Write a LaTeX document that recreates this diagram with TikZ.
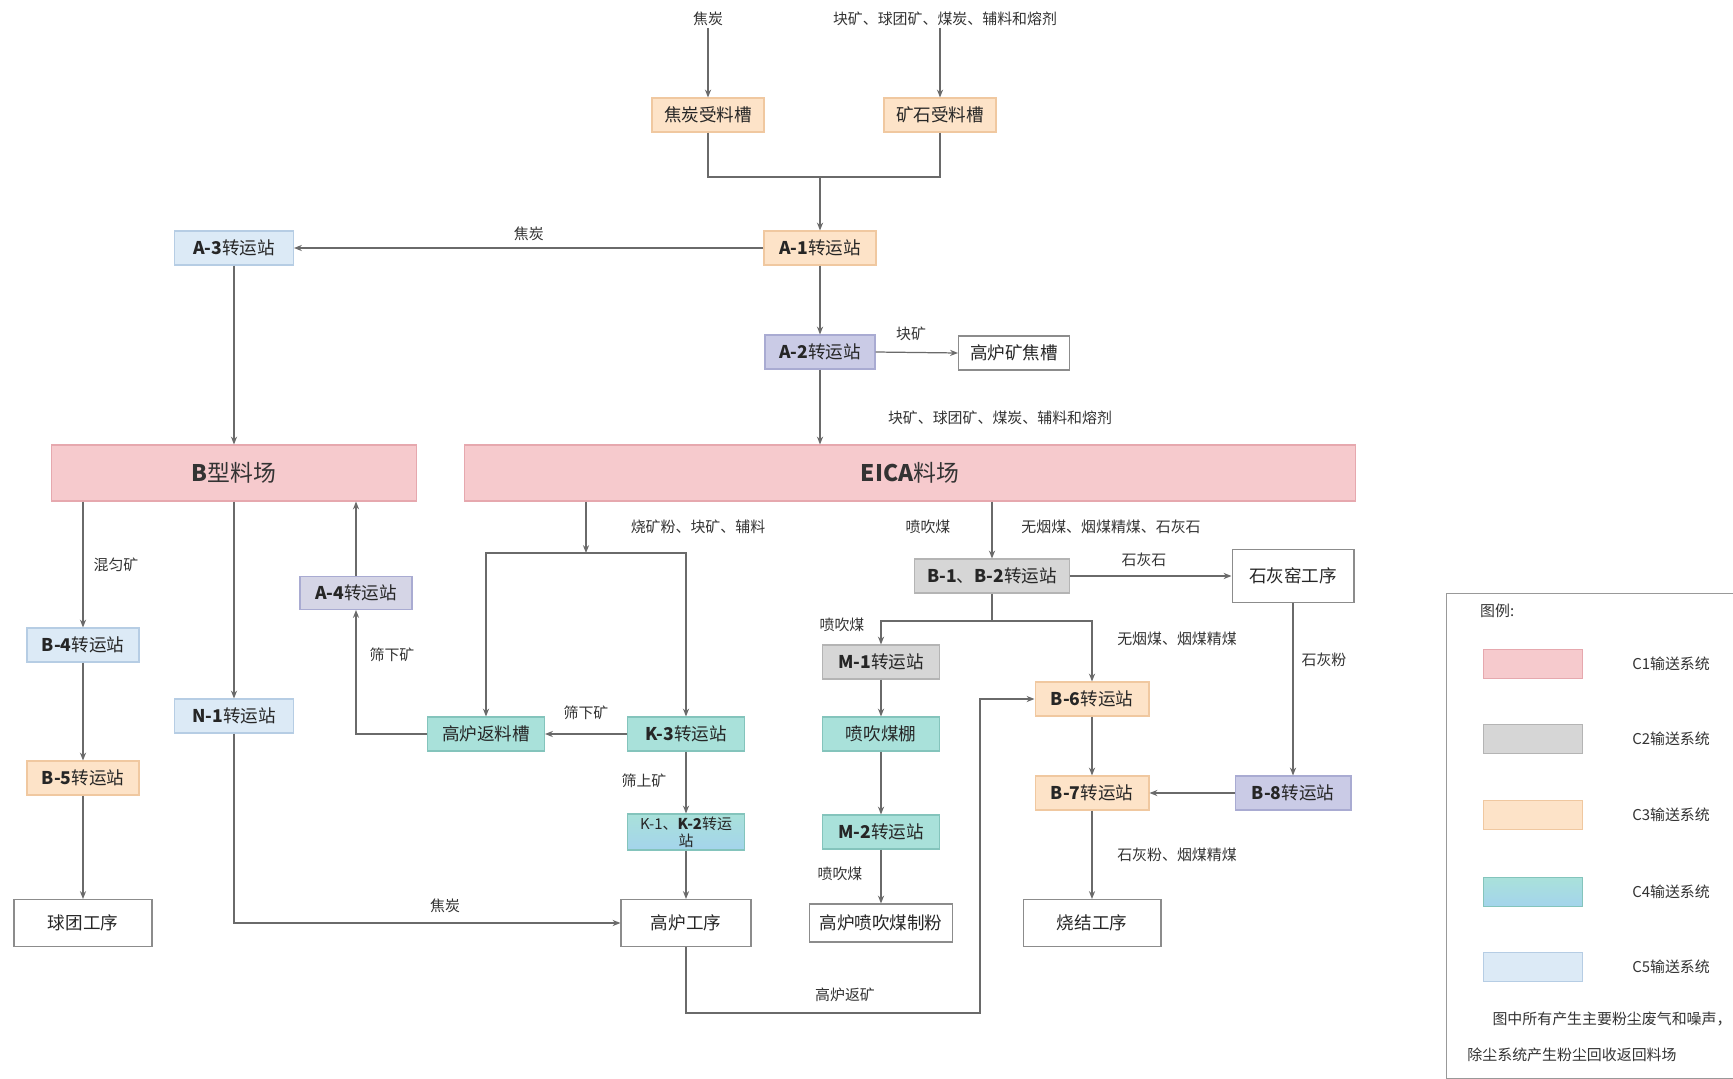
\documentclass[tikz,border=0pt]{standalone}
\usepackage{fontspec}
\setmainfont{Noto Sans CJK SC}
\usetikzlibrary{arrows.meta,calc}

\definecolor{pinkF}{HTML}{F6CACD}
\definecolor{pinkD}{HTML}{E6A8AE}
\definecolor{grayF}{HTML}{D6D6D6}
\definecolor{grayD}{HTML}{B4B4B4}
\definecolor{peachF}{HTML}{FDE3C8}
\definecolor{peachD}{HTML}{F0C8A0}
\definecolor{tealF}{HTML}{A9E1DA}
\definecolor{tealD}{HTML}{84C4BC}
\definecolor{cyanF}{HTML}{A4D4EC}
\definecolor{blueF}{HTML}{DCEAF6}
\definecolor{blueD}{HTML}{B6CDE4}
\definecolor{lavF}{HTML}{CACBE6}
\definecolor{lavD}{HTML}{A9ABD2}
\definecolor{lavgF}{HTML}{D5D5E6}
\definecolor{lineC}{HTML}{6A6A6A}

\tikzset{
  nbox/.style={rectangle, line width=0.6pt, minimum width=2.24cm, minimum height=0.68cm,
    inner sep=1pt, align=center, text=black!85, font=\fontsize{10}{11}\selectfont},
  pinkbox/.style={nbox, fill=pinkF, draw=pinkD},
  graybox/.style={nbox, fill=grayF, draw=grayD},
  peachbox/.style={nbox, fill=peachF, draw=peachD},
  tealbox/.style={nbox, fill=tealF, draw=tealD},
  cyanbox/.style={nbox, top color=tealF, bottom color=cyanF, draw=tealD},
  bluebox/.style={nbox, fill=blueF, draw=blueD},
  lavbox/.style={nbox, fill=lavF, draw=lavD},
  lavgbox/.style={nbox, fill=lavgF, draw=lavD},
  whitebox/.style={nbox, fill=white, draw=black!45},
  yard/.style={rectangle, fill=pinkF, draw=pinkD, line width=0.6pt, minimum height=1.12cm,
    font=\fontsize{13}{14}\selectfont, text=black!80},
  flow/.style={draw=lineC, line width=0.7pt, -{Stealth[length=4.5pt,width=3.5pt]}},
  plain/.style={draw=lineC, line width=0.7pt},
  lbl/.style={font=\fontsize{8.5}{10}\selectfont, text=black!80, inner sep=1pt},
  swatch/.style={rectangle, minimum width=1.98cm, minimum height=0.58cm, line width=0.6pt},
  legtxt/.style={font=\fontsize{8.5}{10}\selectfont, text=black!80, anchor=east}
}

\begin{document}
\begin{tikzpicture}[x=0.02cm, y=-0.02cm]
\useasboundingbox (0,0) rectangle (1733,1078);

% ---------- incoming materials and receiving troughs ----------
\node[lbl] (tcoke) at (708,19) {焦炭};
\node[lbl] (tore) at (945,19) {块矿、球团矿、煤炭、辅料和熔剂};
\node[peachbox] (cokeT) at (708,115) {焦炭受料槽};
\node[peachbox] (oreT) at (940,115) {矿石受料槽};
\draw[flow] (tcoke.south) -- (cokeT.north);
\draw[flow] (oreT.north |- tore.south) -- (oreT.north);

% ---------- transfer stations A ----------
\node[peachbox] (a1) at (820,248) {\textbf{A-1}转运站};
\node[bluebox, minimum width=2.38cm] (a3) at (234,248) {\textbf{A-3}转运站};
\node[lavbox, minimum width=2.2cm] (a2) at (820,352) {\textbf{A-2}转运站};
\node[whitebox, minimum width=2.22cm] (hp) at (1014,353) {高炉矿焦槽};

\coordinate (m1) at (820,177);
\draw[plain] (cokeT.south) |- (m1);
\draw[plain] (oreT.south) |- (m1);
\draw[flow] (m1) -- (a1.north);
\draw[flow] (a1.west) -- (a3.east) node[lbl, midway, above=3pt] {焦炭};
\draw[flow] (a1.south) -- (a2.north);
\draw[flow] (a2.east) -- (hp.west);
\node[lbl] at (911,334) {块矿};
\node[lbl] at (1000,418) {块矿、球团矿、煤炭、辅料和熔剂};

% ---------- stockyards ----------
\node[yard, minimum width=17.84cm] (eica) at (910,473) {\textbf{EICA}料场};
\node[yard, minimum width=7.3cm] (byard) at (234,473) {\textbf{B}型料场};
\draw[flow] (a2.south) -- (a2.south |- eica.north);
\draw[flow] (a3.south) -- (a3.south |- byard.north);

% ---------- left column ----------
\node[bluebox] (b4) at (83,645) {\textbf{B-4}转运站};
\node[peachbox] (b5) at (83,778) {\textbf{B-5}转运站};
\node[whitebox, minimum width=2.76cm, minimum height=0.94cm] (qt) at (83,923) {球团工序};
\draw[flow] (byard.south -| b4) -- (b4.north);
\node[lbl] at (116,565) {混匀矿};
\draw[flow] (b4.south) -- (b5.north);
\draw[flow] (b5.south) -- (qt.north);

\node[bluebox, minimum width=2.38cm] (n1) at (234,716) {\textbf{N-1}转运站};
\draw[flow] (byard.south -| n1) -- (n1.north);

\node[lavgbox, minimum width=2.24cm, minimum height=0.66cm] (a4) at (356,593) {\textbf{A-4}转运站};
\draw[flow] (a4.north) -- (a4.north |- byard.south);
\node[lbl] at (392,655) {筛下矿};

% ---------- blast furnace ore line ----------
\node[tealbox, minimum width=2.34cm] (fl) at (486,734) {高炉返料槽};
\node[tealbox, minimum width=2.34cm] (k3) at (686,734) {\textbf{K-3}转运站};
\node[cyanbox, minimum width=2.34cm, minimum height=0.72cm, font=\fontsize{8.5}{9.5}\selectfont] (k12) at (686,832) {K-1、\textbf{K-2}转运\\站};
\node[whitebox, minimum width=2.6cm, minimum height=0.94cm] (gl) at (686,923) {高炉工序};

\coordinate (br1) at (586,553);
\draw[flow] (eica.south -| br1) -- (br1);
\draw[flow] (br1) -| (fl.north);
\draw[flow] (br1) -| (k3.north);
\node[lbl] at (698,527) {烧矿粉、块矿、辅料};
\draw[flow] (k3.west) -- (fl.east);
\node[lbl] at (586,713) {筛下矿};
\draw[flow] (fl.west) -| (a4.south);
\draw[flow] (k3.south) -- (k12.north);
\node[lbl] at (644,781) {筛上矿};
\draw[flow] (k12.south) -- (gl.north);
\draw[flow] (n1.south) |- (gl.west);
\node[lbl] at (445,906) {焦炭};

% ---------- coal and flux lines ----------
\node[graybox, minimum width=3.1cm] (b12) at (992,576) {\textbf{B-1}、\textbf{B-2}转运站};
\draw[flow] (eica.south -| b12) -- (b12.north);
\node[lbl] at (928,527) {喷吹煤};
\node[lbl] at (1111,527) {无烟煤、烟煤精煤、石灰石};

\node[whitebox, minimum width=2.44cm, minimum height=1.06cm] (lime) at (1293,576) {石灰窑工序};
\draw[flow] (b12.east) -- (lime.west);
\node[lbl] at (1144,560) {石灰石};

\node[lavbox, minimum width=2.32cm] (b8) at (1293,793) {\textbf{B-8}转运站};
\draw[flow] (lime.south) -- (b8.north);
\node[lbl] at (1324,660) {石灰粉};

\node[graybox, minimum width=2.34cm] (m1s) at (881,662) {\textbf{M-1}转运站};
\node[tealbox, minimum width=2.34cm] (fp) at (881,734) {喷吹煤棚};
\node[tealbox, minimum width=2.34cm] (m2) at (881,832) {\textbf{M-2}转运站};
\node[whitebox, minimum width=2.86cm, minimum height=0.76cm] (pj) at (881,923) {高炉喷吹煤制粉};

\node[peachbox, minimum width=2.28cm] (b6) at (1092,699) {\textbf{B-6}转运站};
\node[peachbox, minimum width=2.28cm] (b7) at (1092,793) {\textbf{B-7}转运站};
\node[whitebox, minimum width=2.76cm, minimum height=0.94cm] (sj) at (1092,923) {烧结工序};

\coordinate (br2) at (992,621);
\draw[plain] (b12.south) -- (br2);
\draw[flow] (br2) -| (m1s.north);
\draw[flow] (br2) -| (b6.north);
\node[lbl] at (842,625) {喷吹煤};
\node[lbl] at (1177,639) {无烟煤、烟煤精煤};

\draw[flow] (m1s.south) -- (fp.north);
\draw[flow] (fp.south) -- (m2.north);
\draw[flow] (m2.south) -- (pj.north);
\node[lbl] at (840,874) {喷吹煤};

\draw[flow] (b6.south) -- (b7.north);
\draw[flow] (b7.south) -- (sj.north);
\draw[flow] (b8.west) -- (b7.east);
\node[lbl] at (1177,855) {石灰粉、烟煤精煤};

% returned fines from the blast furnace to sintering
\coordinate (lp1) at (980,1013);
\coordinate (lp2) at (980,699);
\draw[flow] (gl.south) |- (lp1) -- (lp2) -- (b6.west);
\node[lbl] at (845,995) {高炉返矿};

% ---------- legend ----------
\node[draw=black!40, line width=0.6pt, fill=white, minimum width=5.74cm, minimum height=9.7cm, anchor=north west] (leg) at (1446,593) {};
\node[lbl, anchor=west] (legt) at (1478,611) {图例:};
\node[swatch, fill=pinkF, draw=pinkD] (s1) at (1533,664) {};
\node[swatch, fill=grayF, draw=grayD] (s2) at (1533,739) {};
\node[swatch, fill=peachF, draw=peachD] (s3) at (1533,815) {};
\node[swatch, top color=tealF, bottom color=cyanF, draw=tealD] (s4) at (1533,892) {};
\node[swatch, fill=blueF, draw=blueD] (s5) at (1533,967) {};
\node[legtxt] (t1) at (1716,664) {C1输送系统};
\node[legtxt] (t2) at (1716,739) {C2输送系统};
\node[legtxt] (t3) at (1716,815) {C3输送系统};
\node[legtxt] (t4) at (1716,892) {C4输送系统};
\node[legtxt] (t5) at (1716,967) {C5输送系统};
\node[lbl] (n1t) at (1612,1019) {图中所有产生主要粉尘废气和噪声，};
\node[lbl] (n2t) at (1572,1055) {除尘系统产生粉尘回收返回料场};
\end{tikzpicture}
\end{document}
